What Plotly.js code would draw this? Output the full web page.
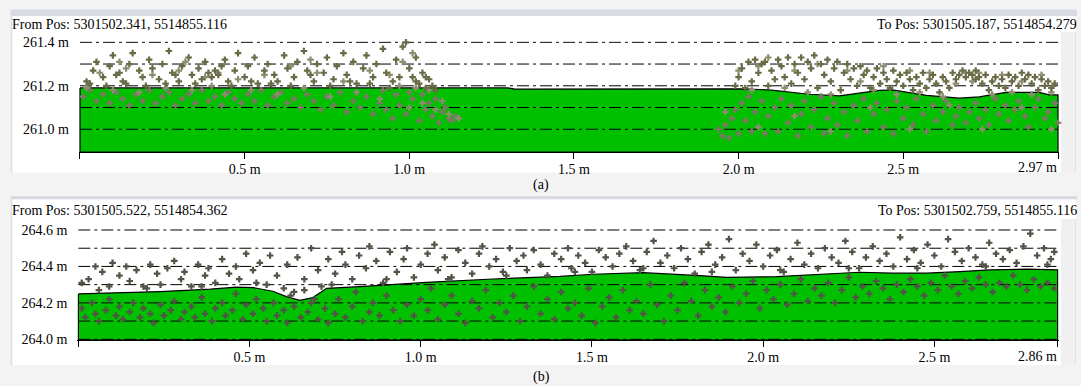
<!DOCTYPE html>
<html><head><meta charset="utf-8">
<script src="https://cdn.plot.ly/plotly-3.0.1.min.js"></script>
<style>html,body{margin:0;padding:0;background:#f3f3f3;overflow:hidden}#chart{width:1081px;height:386px}</style>
</head><body><div id="chart"></div>
<script>
// ---------- Panel (a) data ----------
const aFrom = 'From Pos: 5301502.341, 5514855.116';
const aTo = 'To Pos: 5301505.187, 5514854.279';
const aTerrX = [0, 1.30, 1.32, 2.02, 2.10, 2.215, 2.306, 2.427, 2.467, 2.570, 2.670, 2.731, 2.812, 2.913, 2.943, 2.97];
const aTerrY = [261.190, 261.190, 261.185, 261.186, 261.180, 261.161, 261.154, 261.179, 261.181, 261.156, 261.143, 261.149, 261.170, 261.170, 261.158, 261.158];
const aPtsHigh = [
[0.02,261.22],[0.04,261.27],[0.05,261.31],[0.07,261.24],[0.09,261.29],[0.10,261.34],[0.12,261.26],[0.13,261.22],[0.15,261.30],[0.16,261.35],[0.18,261.27],[0.19,261.24],[0.21,261.32],[0.22,261.28],[0.24,261.23],[0.25,261.30],[0.27,261.36],[0.28,261.26],[0.30,261.22],[0.31,261.29],[0.33,261.33],[0.34,261.25],[0.36,261.28],[0.37,261.23],[0.38,261.31],[0.39,261.26],[0.40,261.24],[0.41,261.27],[0.42,261.25],[0.43,261.29],[0.44,261.32],[0.45,261.22],[0.47,261.27],[0.48,261.35],[0.50,261.24],[0.51,261.29],[0.53,261.33],[0.54,261.21],[0.56,261.27],[0.57,261.30],[0.59,261.25],[0.60,261.22],[0.62,261.34],[0.63,261.28],[0.65,261.24],[0.66,261.31],[0.68,261.36],[0.69,261.27],[0.71,261.22],[0.72,261.30],[0.74,261.26],[0.75,261.33],[0.77,261.23],[0.78,261.29],[0.80,261.35],[0.81,261.25],[0.83,261.31],[0.84,261.21],[0.86,261.28],[0.87,261.34],[0.89,261.24],[0.90,261.30],[0.92,261.37],[0.93,261.26],[0.95,261.22],[0.96,261.32],[0.98,261.38],[0.99,261.40],[1.00,261.28],[1.01,261.24],[1.02,261.33],[1.03,261.21],[1.04,261.26],[1.05,261.19],[1.06,261.23],[1.07,261.20],[1.08,261.18],
[0.03,261.21],[0.08,261.20],[0.11,261.25],[0.14,261.21],[0.20,261.20],[0.26,261.21],[0.29,261.25],[0.35,261.21],[0.46,261.20],[0.52,261.22],[0.58,261.21],[0.64,261.20],[0.70,261.25],[0.76,261.20],[0.82,261.22],[0.88,261.21],[0.94,261.19],[0.97,261.24],[1.02,261.22],[1.05,261.24],
[1.99,261.20],[2.00,261.24],[2.01,261.28],[2.02,261.19],[2.03,261.31],[2.04,261.22],[2.05,261.32],[2.06,261.26],[2.07,261.30],[2.08,261.31],[2.09,261.20],[2.10,261.27],[2.11,261.23],[2.12,261.32],[2.13,261.29],[2.14,261.24],[2.15,261.33],[2.16,261.21],[2.17,261.30],[2.18,261.26],[2.19,261.33],[2.20,261.23],[2.21,261.31],[2.22,261.28],[2.23,261.34],[2.24,261.19],[2.25,261.30],[2.26,261.25],[2.27,261.32],[2.28,261.22],[2.29,261.28],[2.30,261.31],[2.31,261.18],[2.32,261.26],[2.33,261.30],[2.34,261.23],[2.35,261.28],[2.36,261.20],[2.37,261.29],[2.38,261.25],[2.39,261.27],[2.40,261.19],[2.41,261.24],[2.42,261.28],[2.43,261.21],[2.44,261.26],[2.45,261.23],[2.46,261.19],[2.47,261.27],[2.48,261.22],[2.49,261.25],[2.50,261.20],[2.51,261.26],[2.52,261.23],[2.53,261.18],[2.54,261.24],[2.55,261.21],[2.56,261.26],[2.57,261.19],[2.58,261.23],[2.59,261.25],[2.60,261.21],[2.61,261.17],[2.62,261.24],[2.63,261.22],[2.64,261.19],[2.65,261.26],[2.66,261.23],[2.67,261.25],[2.68,261.27],[2.69,261.24],[2.70,261.26],[2.71,261.25],[2.72,261.23],[2.72,261.27],[2.73,261.24],[2.74,261.21],[2.75,261.25],[2.76,261.18],[2.77,261.22],[2.78,261.24],[2.79,261.20],[2.80,261.23],[2.81,261.19],[2.82,261.25],[2.83,261.22],[2.84,261.24],[2.85,261.20],[2.86,261.26],[2.87,261.23],[2.88,261.25],[2.89,261.21],[2.90,261.24],[2.91,261.18],[2.92,261.23],[2.93,261.20],[2.94,261.22],[2.95,261.19],[2.96,261.21]
];
const aPtsLow = [
[0.01,261.15],[0.03,261.18],[0.05,261.13],[0.07,261.16],[0.09,261.12],[0.11,261.17],[0.13,261.14],[0.15,261.11],[0.17,261.16],[0.19,261.13],[0.21,261.18],[0.23,261.12],[0.25,261.15],[0.27,261.17],[0.29,261.11],[0.31,261.14],[0.33,261.16],[0.35,261.12],[0.37,261.18],[0.39,261.13],[0.41,261.15],[0.43,261.11],[0.45,261.17],[0.47,261.14],[0.49,261.12],[0.51,261.16],[0.53,261.13],[0.55,261.18],[0.57,261.11],[0.59,261.15],[0.61,261.17],[0.63,261.12],[0.65,261.14],[0.67,261.10],[0.69,261.16],[0.71,261.13],[0.73,261.09],[0.75,261.15],[0.77,261.11],[0.79,261.17],[0.81,261.08],[0.83,261.13],[0.85,261.10],[0.87,261.15],[0.89,261.07],[0.91,261.12],[0.93,261.09],[0.95,261.05],[0.97,261.11],[0.99,261.07],[1.01,261.14],[1.03,261.04],[1.05,261.09],[1.07,261.06],[1.09,261.03],[1.10,261.08],[1.12,261.05],[1.13,261.04],[1.14,261.06],[1.00,261.17],[0.96,261.16],[0.92,261.18],[1.04,261.16],[1.06,261.12],[1.08,261.14],[1.11,261.10],
[1.94,261.00],[1.95,260.97],[1.96,261.02],[1.97,260.96],[1.98,261.05],[1.99,261.09],[2.00,260.98],[2.01,261.12],[2.02,261.04],[2.03,261.15],[2.04,260.99],[2.05,261.08],[2.07,261.13],[2.08,260.98],[2.09,261.06],[2.11,261.10],[2.12,260.99],[2.13,261.14],[2.15,261.03],[2.16,261.11],[2.18,260.97],[2.19,261.07],[2.20,261.13],[2.22,261.01],[2.23,261.09],[2.25,261.15],[2.26,260.98],[2.27,261.05],[2.29,261.12],[2.30,261.02],[2.32,261.08],[2.33,260.97],[2.35,261.11],[2.36,261.04],[2.38,261.14],[2.39,260.99],[2.41,261.07],[2.42,261.12],[2.44,261.01],[2.45,261.09],[2.47,260.98],[2.48,261.13],[2.50,261.05],[2.51,261.10],[2.53,261.02],[2.54,261.14],[2.56,261.07],[2.57,260.99],[2.59,261.11],[2.60,261.04],[2.62,261.08],[2.63,261.13],[2.65,261.02],[2.66,261.06],[2.67,261.10],[2.69,261.03],[2.70,261.08],[2.72,261.12],[2.73,261.05],[2.75,261.09],[2.76,261.02],[2.78,261.14],[2.79,261.07],[2.81,261.11],[2.82,261.04],[2.84,261.09],[2.85,261.13],[2.87,261.06],[2.88,261.01],[2.90,261.10],[2.91,261.14],[2.93,261.05],[2.94,261.08],[2.96,261.12],[2.97,261.03]
];
const aPtsPale = [
[0.02,261.19],[0.06,261.26],[0.10,261.18],[0.14,261.28],[0.18,261.17],[0.22,261.25],[0.26,261.19],[0.30,261.27],[0.34,261.18],[0.38,261.24],[0.40,261.20],[0.42,261.26],[0.44,261.16],[0.48,261.23],[0.52,261.18],[0.56,261.25],[0.60,261.16],[0.64,261.29],[0.68,261.19],[0.72,261.26],[0.76,261.15],[0.80,261.22],[0.84,261.17],[0.88,261.27],[0.91,261.14],[0.94,261.25],[0.97,261.20],[1.00,261.10],[1.02,261.19],[1.04,261.12],[1.06,261.18],[1.08,261.09],[1.10,261.13],[1.12,261.07],[1.15,261.05],[0.98,261.31],[1.01,261.35],[0.70,261.32],[0.32,261.31],[0.12,261.31],
[2.00,261.27],[2.04,261.18],[2.06,261.29],[2.09,261.33],[2.14,261.19],[2.17,261.27],[2.21,261.17],[2.24,261.30],[2.28,261.16],[2.33,261.27],[2.37,261.22],[2.41,261.18],[2.44,261.29],[2.48,261.16],[2.52,261.27],[2.55,261.17],[2.58,261.26],[2.62,261.15],[2.66,261.21],[2.69,261.26],[2.71,261.22],[2.73,261.26],[2.77,261.16],[2.80,261.25],[2.83,261.17],[2.86,261.22],[2.89,261.16],[2.92,261.25],[2.95,261.17],[1.96,261.08],[2.06,261.01],[2.17,261.06],[2.28,260.99],[2.40,261.10],[2.52,261.00],[2.64,261.11],[2.74,261.00],[2.86,261.10],[2.95,261.00]
];
const aYTicks = [261.0, 261.1, 261.2, 261.3, 261.4];
const aYLabels = ['261.0 m', '', '261.2 m', '', '261.4 m'];
const aYRange = [260.9, 261.4];
const aXTicks = [0, 0.5, 1.0, 1.5, 2.0, 2.5];
const aXLabels = ['', '0.5 m', '1.0 m', '1.5 m', '2.0 m', '2.5 m'];
const aXEnd = 2.97, aXEndLabel = '2.97 m';

// ---------- Panel (b) data ----------
const bFrom = 'From Pos: 5301505.522, 5514854.362';
const bTo = 'To Pos: 5301502.759, 5514855.116';
const bTerrX = [0, 0.239, 0.385, 0.462, 0.510, 0.568, 0.608, 0.647, 0.685, 0.725, 0.822, 1.017, 1.211, 1.407, 1.503, 1.649, 1.815, 1.893, 2.039, 2.185, 2.282, 2.378, 2.477, 2.574, 2.662, 2.769, 2.86];
const bTerrY = [264.249, 264.262, 264.275, 264.286, 264.284, 264.264, 264.234, 264.214, 264.229, 264.280, 264.289, 264.313, 264.331, 264.345, 264.357, 264.366, 264.349, 264.340, 264.344, 264.357, 264.368, 264.363, 264.363, 264.372, 264.381, 264.385, 264.381];
const bPtsHigh = [
[0.01,264.31],[0.03,264.33],[0.05,264.40],[0.07,264.37],[0.09,264.29],[0.10,264.42],[0.12,264.35],[0.14,264.40],[0.15,264.32],[0.17,264.38],[0.19,264.29],[0.21,264.41],[0.23,264.36],[0.24,264.30],[0.26,264.39],[0.28,264.43],[0.30,264.33],[0.31,264.37],[0.33,264.29],[0.35,264.41],[0.37,264.35],[0.38,264.39],[0.40,264.31],[0.42,264.44],[0.44,264.36],[0.46,264.40],[0.47,264.33],[0.49,264.47],[0.51,264.38],[0.53,264.42],[0.55,264.30],[0.56,264.46],[0.58,264.35],[0.60,264.28],[0.61,264.41],[0.63,264.26],[0.64,264.45],[0.66,264.33],[0.68,264.50],[0.70,264.38],[0.71,264.29],[0.73,264.44],[0.75,264.36],[0.77,264.48],[0.78,264.41],[0.80,264.33],[0.82,264.46],[0.84,264.39],[0.85,264.51],[0.87,264.43],[0.89,264.31],[0.91,264.48],[0.93,264.37],[0.95,264.44],[0.96,264.50],[0.98,264.34],[1.00,264.41],[1.02,264.47],[1.04,264.52],[1.05,264.38],[1.07,264.45],[1.09,264.34],[1.11,264.49],[1.13,264.42],[1.15,264.36],[1.17,264.47],[1.18,264.51],[1.20,264.40],[1.22,264.44],[1.24,264.37],[1.26,264.50],[1.28,264.43],[1.30,264.46],[1.31,264.38],[1.33,264.49],[1.35,264.41],[1.37,264.35],[1.39,264.47],[1.41,264.44],[1.43,264.50],[1.44,264.39],[1.46,264.46],[1.48,264.42],[1.50,264.37],[1.52,264.49],[1.54,264.45],[1.56,264.40],[1.58,264.47],[1.60,264.51],[1.62,264.43],[1.64,264.38],[1.66,264.48],[1.68,264.54],[1.70,264.42],[1.72,264.46],[1.74,264.39],[1.76,264.50],[1.78,264.44],[1.80,264.36],[1.82,264.48],[1.84,264.52],[1.86,264.41],[1.88,264.45],[1.90,264.55],[1.92,264.38],[1.94,264.47],[1.96,264.43],[1.98,264.52],[2.00,264.40],[2.02,264.46],[2.04,264.49],[2.06,264.37],[2.08,264.44],[2.10,264.53],[2.12,264.41],[2.14,264.47],[2.16,264.39],[2.18,264.50],[2.20,264.45],[2.22,264.42],[2.24,264.54],[2.26,264.48],[2.28,264.39],[2.30,264.45],[2.32,264.51],[2.34,264.43],[2.36,264.47],[2.38,264.40],[2.40,264.56],[2.42,264.44],[2.44,264.49],[2.46,264.42],[2.48,264.52],[2.50,264.46],[2.52,264.40],[2.54,264.55],[2.56,264.48],[2.58,264.43],[2.60,264.50],[2.62,264.45],[2.64,264.41],[2.66,264.53],[2.68,264.47],[2.70,264.44],[2.72,264.49],[2.74,264.42],[2.76,264.51],[2.78,264.58],[2.80,264.46],[2.82,264.50],[2.84,264.44],[2.85,264.48],
[0.06,264.27],[0.20,264.28],[0.36,264.29],[0.52,264.31],[0.62,264.24],[0.66,264.27],[0.69,264.22],[0.74,264.30],[0.90,264.33],[1.08,264.33],[1.25,264.35],[1.45,264.37],[1.65,264.39],[1.85,264.37],[2.05,264.38],[2.25,264.39],[2.45,264.39],[2.65,264.40],[2.83,264.41]
];
const bPtsLow = [
[0.01,264.17],[0.02,264.12],[0.04,264.20],[0.05,264.14],[0.06,264.10],[0.08,264.16],[0.09,264.22],[0.11,264.13],[0.12,264.18],[0.13,264.11],[0.15,264.15],[0.16,264.20],[0.18,264.12],[0.19,264.17],[0.21,264.14],[0.22,264.09],[0.24,264.19],[0.25,264.13],[0.27,264.16],[0.28,264.21],[0.30,264.11],[0.31,264.15],[0.33,264.18],[0.34,264.12],[0.36,264.23],[0.37,264.14],[0.39,264.10],[0.40,264.17],[0.42,264.20],[0.43,264.13],[0.45,264.16],[0.46,264.25],[0.48,264.11],[0.49,264.19],[0.51,264.14],[0.52,264.22],[0.54,264.17],[0.55,264.10],[0.57,264.20],[0.58,264.13],[0.60,264.16],[0.61,264.09],[0.63,264.18],[0.65,264.12],[0.67,264.15],[0.68,264.20],[0.70,264.11],[0.72,264.17],[0.73,264.09],[0.75,264.14],[0.76,264.22],[0.78,264.12],[0.80,264.18],[0.81,264.26],[0.83,264.10],[0.85,264.15],[0.86,264.20],[0.88,264.13],[0.90,264.24],[0.92,264.16],[0.94,264.10],[0.96,264.19],[0.98,264.13],[1.00,264.22],[1.02,264.16],[1.03,264.28],[1.05,264.11],[1.07,264.19],[1.09,264.24],[1.11,264.14],[1.13,264.09],[1.15,264.21],[1.17,264.17],[1.19,264.27],[1.21,264.12],[1.23,264.20],[1.25,264.15],[1.27,264.24],[1.29,264.10],[1.31,264.18],[1.33,264.29],[1.35,264.14],[1.37,264.22],[1.39,264.11],[1.41,264.26],[1.43,264.17],[1.45,264.20],[1.47,264.13],[1.49,264.28],[1.51,264.09],[1.53,264.18],[1.55,264.23],[1.57,264.12],[1.59,264.27],[1.61,264.16],[1.63,264.21],[1.65,264.14],[1.67,264.30],[1.69,264.19],[1.71,264.10],[1.73,264.24],[1.75,264.16],[1.77,264.31],[1.79,264.21],[1.81,264.13],[1.83,264.27],[1.85,264.18],[1.87,264.23],[1.89,264.15],[1.91,264.29],[1.93,264.20],[1.95,264.25],[1.97,264.32],[1.99,264.17],[2.01,264.27],[2.03,264.22],[2.05,264.30],[2.07,264.19],[2.09,264.25],[2.11,264.33],[2.13,264.21],[2.15,264.28],[2.17,264.24],[2.19,264.31],[2.21,264.20],[2.23,264.27],[2.25,264.34],[2.27,264.23],[2.29,264.29],[2.31,264.25],[2.33,264.32],[2.35,264.28],[2.37,264.22],[2.39,264.30],[2.41,264.26],[2.43,264.33],[2.45,264.29],[2.47,264.24],[2.49,264.31],[2.51,264.27],[2.53,264.35],[2.55,264.29],[2.57,264.25],[2.59,264.32],[2.61,264.28],[2.63,264.34],[2.65,264.30],[2.67,264.26],[2.69,264.31],[2.71,264.29],[2.73,264.35],[2.75,264.30],[2.77,264.27],[2.79,264.33],[2.81,264.29],[2.83,264.31],[2.85,264.28]
];
const bYTicks = [264.0, 264.1, 264.2, 264.3, 264.4, 264.5, 264.6];
const bYLabels = ['264.0 m', '', '264.2 m', '', '264.4 m', '', '264.6 m'];
const bYRange = [264.0, 264.6];
const bXTicks = [0, 0.5, 1.0, 1.5, 2.0, 2.5];
const bXLabels = ['', '0.5 m', '1.0 m', '1.5 m', '2.0 m', '2.5 m'];
const bXEnd = 2.86, bXEndLabel = '2.86 m';
const captions = ['(a)', '(b)'];

// ---------- layout helpers (pixel -> paper) ----------
const W = 1081, H = 386;
const fx = p => p / W, fy = p => 1 - p / H;
const FONT = '"Liberation Serif", "Times New Roman", serif';
const GREEN = '#00c000';
const GRIDDASH = '12px,4px,3px,4px';
const xPad = 0.003, yPad = 0.005;

function ground(tx, ty, ymin, xa, ya) {
  const n = tx.length - 1;
  return {type: 'scatter', mode: 'lines', xaxis: xa, yaxis: ya,
    x: tx.concat([tx[n], tx[0], tx[0]]), y: ty.concat([ymin, ymin, ty[0]]),
    fill: 'toself', fillcolor: GREEN, line: {color: '#000', width: 1.2},
    hoverinfo: 'skip', showlegend: false};
}
function grid(ticks, x1, xa, ya) {
  const x = [], y = [];
  ticks.forEach(v => { x.push(0, x1, null); y.push(v, v, null); });
  return {type: 'scatter', mode: 'lines', xaxis: xa, yaxis: ya, x: x, y: y,
    line: {color: '#000', width: 1, dash: GRIDDASH}, connectgaps: false,
    hoverinfo: 'skip', showlegend: false};
}
function pts(list, color, xa, ya) {
  return {type: 'scatter', mode: 'markers', xaxis: xa, yaxis: ya,
    x: list.map(p => p[0]), y: list.map(p => p[1]), cliponaxis: false,
    marker: {symbol: 'cross', size: 5.5, color: color, line: {width: 0}},
    hoverinfo: 'skip', showlegend: false};
}

const traces = [
  ground(aTerrX, aTerrY, aYRange[0] - yPad, 'x', 'y'),
  grid(aYTicks, aXEnd, 'x', 'y'),
  pts(aPtsLow, '#7d7864', 'x', 'y'),
  pts(aPtsPale, '#8f8d70', 'x', 'y'),
  pts(aPtsHigh, '#686b46', 'x', 'y'),
  ground(bTerrX, bTerrY, bYRange[0] - yPad, 'x2', 'y2'),
  grid(bYTicks, bXEnd, 'x2', 'y2'),
  pts(bPtsLow, '#535347', 'x2', 'y2'),
  pts(bPtsHigh, '#535347', 'x2', 'y2')
];

function xax(domPx, end, ticks, labels, anchor) {
  return {domain: [fx(domPx[0]), fx(domPx[1])], range: [-xPad, end + xPad], anchor: anchor,
    tickvals: ticks.concat([end]), ticktext: labels.concat(['']),
    ticks: 'outside', ticklen: 6, tickwidth: 1, tickcolor: '#000', ticklabelstandoff: -2,
    showline: true, linecolor: '#000', linewidth: 1, showgrid: false, zeroline: false,
    tickfont: {family: FONT, size: 14, color: '#000'}, fixedrange: true};
}
function yax(domPx, range, ticks, labels, anchor) {
  const scale = (domPx[1] - domPx[0]) / (range[1] - range[0]);
  const padPx = yPad * scale;
  return {domain: [fy(domPx[1] + padPx), fy(domPx[0] - padPx)], range: [range[0] - yPad, range[1] + yPad], anchor: anchor,
    tickvals: ticks, ticktext: labels, ticks: '', ticklabelstandoff: 9,
    showline: false, showgrid: false, zeroline: false,
    tickfont: {family: FONT, size: 14, color: '#000'}, fixedrange: true};
}

const panelShapes = [];
function rect(x0, x1, y0, y1, color) {
  panelShapes.push({type: 'rect', xref: 'paper', yref: 'paper', layer: 'below',
    x0: fx(x0), x1: fx(x1), y0: fy(y1), y1: fy(y0), fillcolor: color, line: {width: 0}});
}
function panel(top, band, titleEnd, bottom) {
  rect(10.5, 1077, top, band, '#d8dbe2');
  rect(10.5, 12.5, band, bottom, '#dde0e6');
  rect(12.5, 1076, band, bottom, '#ffffff');
  rect(1061, 1076, titleEnd, bottom, '#f0f0f0');
  rect(1075, 1076, titleEnd, bottom, '#e2e2e2');
}
panel(9.5, 16, 32, 172.5);
panel(196, 199.5, 219, 365);

function txt(text, x, y, xanchor, xref) {
  return {text: text, x: x, y: y, xref: xref || 'paper', yref: 'paper', xanchor: xanchor, yanchor: 'middle',
    showarrow: false, font: {family: FONT, size: 14, color: '#000'}, borderpad: 0};
}
const annotations = [
  txt(aFrom, fx(11), fy(24), 'left'),
  txt(aTo, fx(1078), fy(24), 'right'),
  txt(aXEndLabel, aXEnd, fy(167), 'right', 'x'),
  txt(captions[0], fx(541), fy(185), 'center'),
  txt(bFrom, fx(11), fy(210), 'left'),
  txt(bTo, fx(1078), fy(210), 'right'),
  txt(bXEndLabel, bXEnd, fy(356.5), 'right', 'x2'),
  txt(captions[1], fx(541), fy(377), 'center')
];

const layout = {
  width: W, height: H, margin: {l: 0, r: 0, t: 0, b: 0, pad: 0},
  paper_bgcolor: '#f3f3f3', plot_bgcolor: 'rgba(0,0,0,0)', showlegend: false,
  font: {family: FONT, size: 14, color: '#000'},
  xaxis: xax([79, 1059], aXEnd, aXTicks, aXLabels, 'y'),
  yaxis: yax([42.3, 151], aYRange, aYTicks, aYLabels, 'x'),
  xaxis2: xax([77.3, 1058.7], bXEnd, bXTicks, bXLabels, 'y2'),
  yaxis2: yax([230, 339.3], bYRange, bYTicks, bYLabels, 'x2'),
  shapes: panelShapes, annotations: annotations
};
Plotly.newPlot('chart', traces, layout, {staticPlot: true, displayModeBar: false});
</script></body></html>
